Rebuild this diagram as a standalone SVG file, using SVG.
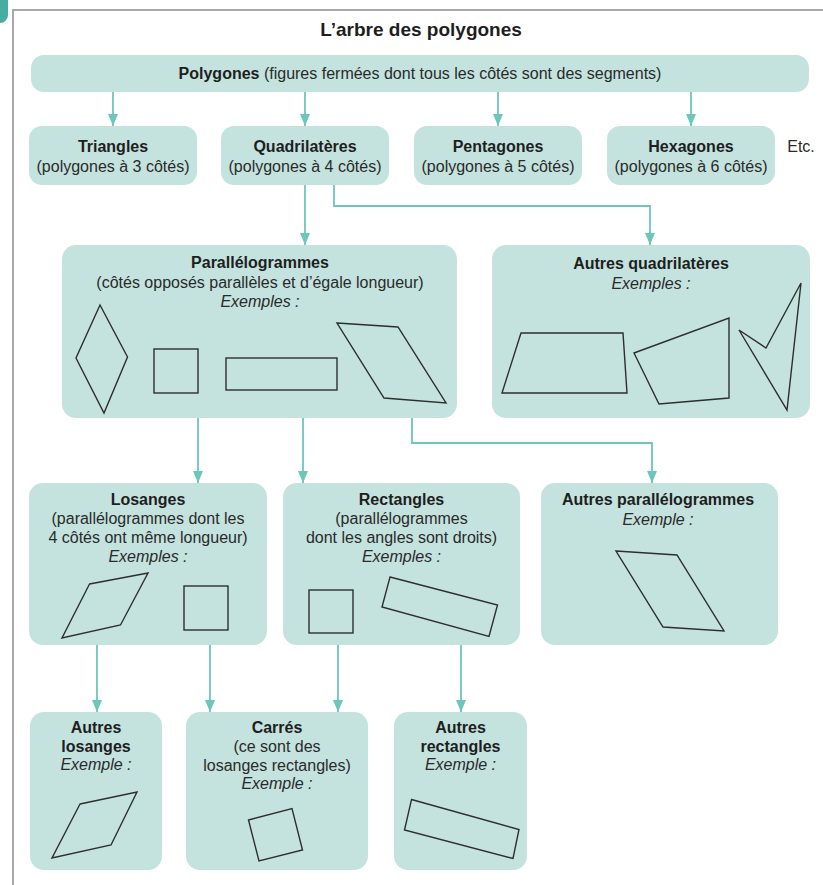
<svg xmlns="http://www.w3.org/2000/svg" width="823" height="885" viewBox="0 0 823 885">
<style>
  .box { fill: #c4e3de; }
  .t { font-family: "Liberation Sans", Arial, sans-serif; font-size: 16px; fill: #2a2a2a; text-anchor: middle; }
  .b { font-weight: bold; fill: #1e1e1e; }
  .i { font-style: italic; }
  .shape { fill: none; stroke: #2e2e2e; stroke-width: 1.4; stroke-linejoin: miter; }
  .conn path { fill: none; stroke: #6cc6ba; stroke-width: 1.8; }
</style>
<defs>
  <marker id="ah" viewBox="0 0 12 10" refX="12" refY="5" markerWidth="12" markerHeight="10" markerUnits="userSpaceOnUse" orient="auto">
    <path d="M0,0 L12,5 L0,10 z" fill="#6cc6ba"/>
  </marker>
</defs>
<rect width="823" height="885" fill="#ffffff"/>
<rect x="-12" y="-8" width="20" height="31" rx="8" fill="#45ada2"/>
<path d="M13,885 V10 H823" fill="none" stroke="#a9a9a9" stroke-width="2"/>
<text class="t b" x="421" y="36" style="font-size:19px">L’arbre des polygones</text>

<g class="conn">
  <path d="M113,92 V126" marker-end="url(#ah)"/>
  <path d="M305,92 V126" marker-end="url(#ah)"/>
  <path d="M498,92 V126" marker-end="url(#ah)"/>
  <path d="M691,92 V126" marker-end="url(#ah)"/>
  <path d="M305,185 V245" marker-end="url(#ah)"/>
  <path d="M334,185 V206 H650 V245" marker-end="url(#ah)"/>
  <path d="M198,418 V483" marker-end="url(#ah)"/>
  <path d="M303,418 V483" marker-end="url(#ah)"/>
  <path d="M412,418 V443 H652 V483" marker-end="url(#ah)"/>
  <path d="M97,645 V712" marker-end="url(#ah)"/>
  <path d="M210,645 V712" marker-end="url(#ah)"/>
  <path d="M338,645 V712" marker-end="url(#ah)"/>
  <path d="M461,645 V712" marker-end="url(#ah)"/>
</g>

<g id="polygones">
  <rect class="box" x="31" y="55" width="778" height="37" rx="13"/>
  <text class="t" x="420" y="79"><tspan class="b">Polygones</tspan> (figures fermées dont tous les côtés sont des segments)</text>
</g>

<g id="triangles">
  <rect class="box" x="29" y="126" width="168" height="59" rx="13"/>
  <text class="t b" x="113" y="152">Triangles</text>
  <text class="t" x="113" y="172">(polygones à 3 côtés)</text>
</g>
<g id="quadrilateres">
  <rect class="box" x="221" y="126" width="168" height="59" rx="13"/>
  <text class="t b" x="305" y="152">Quadrilatères</text>
  <text class="t" x="305" y="172">(polygones à 4 côtés)</text>
</g>
<g id="pentagones">
  <rect class="box" x="414" y="126" width="168" height="59" rx="13"/>
  <text class="t b" x="498" y="152">Pentagones</text>
  <text class="t" x="498" y="172">(polygones à 5 côtés)</text>
</g>
<g id="hexagones">
  <rect class="box" x="607" y="126" width="168" height="59" rx="13"/>
  <text class="t b" x="691" y="152">Hexagones</text>
  <text class="t" x="691" y="172">(polygones à 6 côtés)</text>
</g>
<text class="t" x="801" y="152">Etc.</text>

<g id="parallelogrammes">
  <rect class="box" x="62" y="245" width="395" height="173" rx="14"/>
  <text class="t b" x="260" y="268">Parallélogrammes</text>
  <text class="t" x="260" y="288">(côtés opposés parallèles et d’égale longueur)</text>
  <text class="t i" x="260" y="307">Exemples :</text>
  <polygon class="shape" points="100,305 127.5,357 104,413 76,358"/>
  <rect class="shape" x="154" y="349" width="44" height="44"/>
  <rect class="shape" x="226" y="358" width="111" height="32"/>
  <polygon class="shape" points="337,323 398,327 446,403 384,398"/>
</g>

<g id="autres-quadrilateres">
  <rect class="box" x="492" y="245" width="318" height="173" rx="14"/>
  <text class="t b" x="651" y="269">Autres quadrilatères</text>
  <text class="t i" x="651" y="289">Exemples :</text>
  <polygon class="shape" points="521,333 623,333 627,393 502,393"/>
  <polygon class="shape" points="634,353 729,318 729,398 659,404"/>
  <polygon class="shape" points="801,283 787,410 739,330 766,348"/>
</g>

<g id="losanges">
  <rect class="box" x="29" y="483" width="238" height="162" rx="14"/>
  <text class="t b" x="148" y="505">Losanges</text>
  <text class="t" x="148" y="524">(parallélogrammes dont les</text>
  <text class="t" x="148" y="543">4 côtés ont même longueur)</text>
  <text class="t i" x="148" y="562">Exemples :</text>
  <polygon class="shape" points="89.5,584 148,573 120.5,625 62,638"/>
  <rect class="shape" x="184" y="586" width="44" height="44"/>
</g>

<g id="rectangles">
  <rect class="box" x="283" y="483" width="237" height="162" rx="14"/>
  <text class="t b" x="401.5" y="505">Rectangles</text>
  <text class="t" x="401.5" y="524">(parallélogrammes</text>
  <text class="t" x="401.5" y="543">dont les angles sont droits)</text>
  <text class="t i" x="401.5" y="562">Exemples :</text>
  <rect class="shape" x="309" y="590" width="44" height="43"/>
  <polygon class="shape" points="390,577 497.5,605 489,636.5 382,607"/>
</g>

<g id="autres-parallelogrammes">
  <rect class="box" x="541" y="483" width="237" height="162" rx="14"/>
  <text class="t b" x="658" y="505">Autres parallélogrammes</text>
  <text class="t i" x="658" y="525">Exemple :</text>
  <polygon class="shape" points="616,551 677,555 724,631 663,627"/>
</g>

<g id="autres-losanges">
  <rect class="box" x="30" y="712" width="132" height="158" rx="14"/>
  <text class="t b" x="96" y="733">Autres</text>
  <text class="t b" x="96" y="752">losanges</text>
  <text class="t i" x="96" y="770">Exemple :</text>
  <polygon class="shape" points="80,804 137,792 111,845 52,858"/>
</g>

<g id="carres">
  <rect class="box" x="186" y="712" width="182" height="158" rx="14"/>
  <text class="t b" x="277" y="733">Carrés</text>
  <text class="t" x="277" y="752">(ce sont des</text>
  <text class="t" x="277" y="771">losanges rectangles)</text>
  <text class="t i" x="277" y="789">Exemple :</text>
  <polygon class="shape" points="248.5,820 292,808.5 302.5,850 259,861"/>
</g>

<g id="autres-rectangles">
  <rect class="box" x="394" y="712" width="133" height="158" rx="14"/>
  <text class="t b" x="460.5" y="733">Autres</text>
  <text class="t b" x="460.5" y="752">rectangles</text>
  <text class="t i" x="460.5" y="770">Exemple :</text>
  <polygon class="shape" points="411.5,799.5 519,829.5 513,858.5 404.5,830"/>
</g>
</svg>
